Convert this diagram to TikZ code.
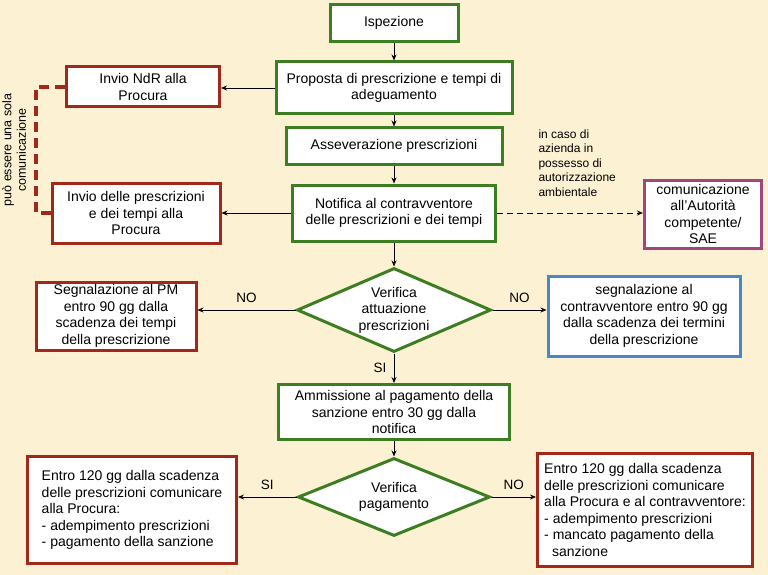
\documentclass[tikz,border=0pt]{standalone}
\usepackage{fontspec}
\setmainfont{Liberation Sans}
\usetikzlibrary{arrows.meta,shapes.geometric}
\definecolor{bgbeige}{HTML}{FCF1D2}
\definecolor{boxgreen}{HTML}{3E7E22}
\definecolor{boxred}{HTML}{A3281C}
\definecolor{boxblue}{HTML}{4A86C8}
\definecolor{boxpurple}{HTML}{A0467F}
\tikzset{
  gbox/.style={draw=boxgreen,line width=3pt,fill=white,align=center,font=\fontsize{14}{16.5}\selectfont,inner sep=2pt},
  rbox/.style={gbox,draw=boxred},
  bbox/.style={gbox,draw=boxblue},
  pbox/.style={gbox,draw=boxpurple},
  dec/.style={diamond,draw=boxgreen,line width=3pt,fill=white,align=center,font=\fontsize{14}{16.5}\selectfont,inner sep=0pt},
  arr/.style={-{Stealth[length=6pt,width=5pt]},line width=0.8pt},
  lbl/.style={font=\fontsize{13.5}{15}\selectfont}
}
\begin{document}
\begin{tikzpicture}[x=1pt,y=-1pt]
\fill[bgbeige] (0,0) rectangle (768,575);
\useasboundingbox (0,0) rectangle (768,575);
\node[gbox,minimum width=128,minimum height=37] (isp) at (394,23) {Ispezione};
\node[gbox,minimum width=236,minimum height=52] (prop) at (394,88) {Proposta di prescrizione e tempi di\\adeguamento};
\node[gbox,minimum width=216,minimum height=36] (ass) at (394,146) {Asseverazione prescrizioni};
\node[gbox,minimum width=203,minimum height=56] (not) at (394,213) {Notifica al contravventore\\delle prescrizioni e dei tempi};
\node[rbox,minimum width=153,minimum height=40] (ndr) at (143,87) {Invio NdR alla\\Procura};
\node[rbox,minimum width=168,minimum height=60] (invio) at (136,213) {Invio delle prescrizioni\\e dei tempi alla\\Procura};
\node[pbox,minimum width=117,minimum height=68] (sae) at (703,214) {comunicazione\\all’Autorità\\competente/\\SAE};
\node[lbl,align=left,anchor=north west,font=\fontsize{12}{14.5}\selectfont] (caso) at (535,126) {in caso di\\azienda in\\possesso di\\autorizzazione\\ambientale};
\node[dec,minimum width=194,minimum height=84,aspect=2.3] (ver1) at (394,310) {Verifica\\attuazione\\prescrizioni};
\node[rbox,minimum width=160,minimum height=68] (pm) at (116,316) {Segnalazione al PM\\entro 90 gg dalla\\scadenza dei tempi\\della prescrizione};
\node[bbox,minimum width=192,minimum height=80] (segn) at (644,316) {segnalazione al\\contravventore entro 90 gg\\dalla scadenza dei termini\\della prescrizione};
\node[gbox,minimum width=231,minimum height=55] (amm) at (394,412) {Ammissione al pagamento della\\sanzione entro 30 gg dalla\\notifica};
\node[dec,minimum width=192,minimum height=78,aspect=2.4] (ver2) at (394,497) {Verifica\\pagamento};
\node[rbox,minimum width=209,minimum height=107,align=left] (ok) at (132,510) {Entro 120 gg dalla scadenza\\delle prescrizioni comunicare\\alla Procura:\\- adempimento prescrizioni\\- pagamento della sanzione};
\node[rbox,minimum width=215,minimum height=113,align=left] (ko) at (645,510) {Entro 120 gg dalla scadenza\\delle prescrizioni comunicare\\alla Procura e al contravventore:\\- adempimento prescrizioni\\- mancato pagamento della\\\ \ sanzione};
\draw[arr] (isp) -- (prop);
\draw[arr] (prop) -- (ass);
\draw[arr] (ass) -- (not);
\draw[arr] (not) -- (ver1);
\draw[arr] (prop.west) -- (prop.west -| ndr.east);
\draw[arr] (not.west) -- (not.west -| invio.east);
\draw[arr,dash pattern=on 6pt off 4pt,line width=1pt] (not.east) -- (not.east -| sae.west);
\draw[arr] (ver1.west) -- node[lbl,above=4pt] {NO} (ver1.west -| pm.east);
\draw[arr] (ver1.east) -- node[lbl,above=4pt] {NO} (ver1.east -| segn.west);
\draw[arr] (ver1) -- node[lbl,pos=0.5,left=4pt] {SI} (amm);
\draw[arr] (amm) -- (ver2);
\draw[arr] (ver2.west) -- node[lbl,above=4pt] {SI} (ver2.west -| ok.east);
\draw[arr] (ver2.east) -- node[lbl,above=4pt] {NO} (ver2.east -| ko.west);
\coordinate (c1) at (36,87);
\coordinate (c2) at (36,213);
\draw[boxred,line width=3.5pt,dash pattern=on 10pt off 6pt] (ndr.west) -- (c1) -- (c2) -- (invio.west);
\node[lbl,rotate=90,align=center,font=\fontsize{12.5}{14.5}\selectfont] (sola) at (14,150) {può essere una sola\\comunicazione};
\end{tikzpicture}
\end{document}
